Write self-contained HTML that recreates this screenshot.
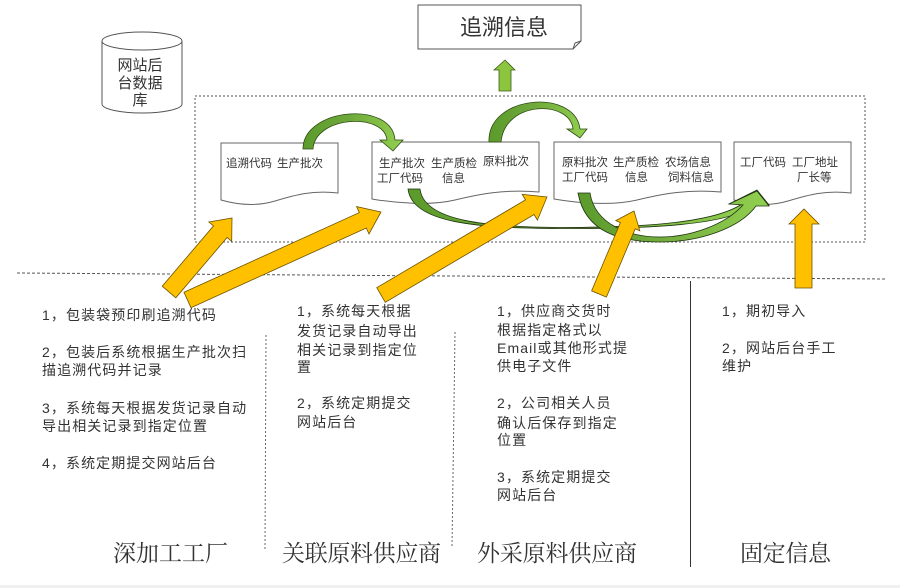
<!DOCTYPE html>
<html><head><meta charset="utf-8"><style>
html,body{margin:0;padding:0;background:#fff;}
svg{display:block;}
.t{font-family:"Liberation Sans","Noto Sans CJK SC",sans-serif;fill:#333;}
.b{font-size:11.5px;}
.p{font-size:14px;letter-spacing:1.1px;}
.l{font-family:"Liberation Serif","Noto Serif CJK SC",serif;font-size:23px;fill:#333;}
</style></head><body>
<svg width="900" height="588" viewBox="0 0 900 588" xmlns="http://www.w3.org/2000/svg">
<defs>
<linearGradient id="g1" x1="0" y1="0" x2="1" y2="0"><stop offset="0" stop-color="#5c9a2c"/><stop offset="0.45" stop-color="#6ea83a"/><stop offset="1" stop-color="#92d050"/></linearGradient>
<linearGradient id="g2" x1="0" y1="0" x2="1" y2="0"><stop offset="0" stop-color="#5c9a2c"/><stop offset="0.35" stop-color="#6ea83a"/><stop offset="1" stop-color="#92d050"/></linearGradient>
</defs>
<rect x="0" y="0" width="900" height="588" fill="#fff"/>
<rect x="0" y="585" width="900" height="3" fill="#f0f0f0"/>

<!-- database cylinder -->
<path d="M102,41 L102,104 A40,9 0 0 0 182,104 L182,41" fill="#fff" stroke="#555" stroke-width="1"/>
<ellipse cx="142" cy="41" rx="40" ry="9" fill="#fff" stroke="#555" stroke-width="1"/>
<text class="t" x="140" y="70" font-size="15" text-anchor="middle">网站后</text>
<text class="t" x="140" y="88" font-size="15" text-anchor="middle">台数据</text>
<text class="t" x="140" y="105" font-size="15" text-anchor="middle">库</text>

<!-- 追溯信息 box -->
<path d="M418,5 L581,5 L581,41 L573,49 L418,49 Z" fill="#fff" stroke="#555" stroke-width="1"/>
<path d="M573,49 L575,43 L581,41" fill="none" stroke="#555" stroke-width="1"/>
<text class="t" x="504" y="35" font-size="22" text-anchor="middle">追溯信息</text>

<!-- green up arrow -->
<polygon points="499,91 499,70 494,70 505,60 515,70 511,70 511,91" fill="#8cc63f" stroke="#3b5d1b" stroke-width="0.8"/>

<!-- dotted container -->
<rect x="195" y="96" width="670" height="146" fill="none" stroke="#555" stroke-width="1" stroke-dasharray="2,2"/>

<!-- document boxes -->
<path d="M221,143 L338,143 L338,193 C312,190 295,195 275,201 C255,207 235,204 221,200 Z" fill="#fff" stroke="#666" stroke-width="1"/>
<path d="M372,142 L539,142 L539,192 C505,189 480,194 455,200 C430,206 395,203 372,199 Z" fill="#fff" stroke="#666" stroke-width="1"/>
<path d="M554,142 L721,142 L721,192 C687,189 662,194 637,200 C612,206 577,203 554,199 Z" fill="#fff" stroke="#666" stroke-width="1"/>
<path d="M734,142 L851,142 L851,193 C825,190 808,195 788,201 C768,207 748,204 734,200 Z" fill="#fff" stroke="#666" stroke-width="1"/>

<!-- box texts -->
<text class="t b" x="226" y="167">追溯代码</text>
<text class="t b" x="277" y="167">生产批次</text>

<text class="t b" x="379" y="167">生产批次</text>
<text class="t b" x="431" y="167">生产质检</text>
<text class="t b" x="483" y="165">原料批次</text>
<text class="t b" x="377" y="182">工厂代码</text>
<text class="t b" x="442" y="182">信息</text>

<text class="t b" x="562" y="166">原料批次</text>
<text class="t b" x="613" y="166">生产质检</text>
<text class="t b" x="665" y="166">农场信息</text>
<text class="t b" x="562" y="181">工厂代码</text>
<text class="t b" x="625" y="181">信息</text>
<text class="t b" x="668" y="181">饲料信息</text>

<text class="t b" x="740" y="166">工厂代码</text>
<text class="t b" x="792" y="166">工厂地址</text>
<text class="t b" x="797" y="181">厂长等</text>

<!-- top curved arrows -->
<path d="M303,149 C303,108 392,100 395,140 L403,140 L393,151 L380,140 L387,140 C384,112 315,116 313,149 Z" fill="url(#g1)" stroke="#2e4a14" stroke-width="0.8"/>
<path d="M489,142 C487,95 575,88 580,129 L587,129 L580,138 L567,129 L573,129 C570,100 505,100 501,142 Z" fill="url(#g1)" stroke="#2e4a14" stroke-width="0.8"/>

<!-- lower curved arrows -->
<path d="M408,189 C412,224 480,228 560,228.5 C650,229 730,225 754,205 L769,205 L757,190 L729,204 L742,204 C715,222 650,227.5 560,227.5 C490,227 424,222 420,189 Z" fill="url(#g2)" stroke="#1f3310" stroke-width="0.8"/>
<path d="M578,193 C585,232 620,242 660,242 C700,242 740,228 756,206 L769,206 L757,191 L729,204 L743,205 C725,225 690,237 660,237 C630,237 595,225 590,193 Z" fill="url(#g2)" stroke="#1f3310" stroke-width="0.8"/>

<!-- horizontal dashed divider -->
<line x1="17" y1="273" x2="885" y2="279" stroke="#555" stroke-width="1" stroke-dasharray="3,2"/>

<!-- yellow arrows -->
<g fill="#FFC000" stroke="#6b5200" stroke-width="0.8" stroke-linejoin="miter">
<polygon points="162.2,286.2 213.5,225.9 208.9,222.0 232,218 231.7,241.4 227.1,237.5 175.8,297.8"/>
<polygon points="184.0,292.3 359.3,212.6 356.6,206.6 381,212 369.0,234.0 366.3,228.0 191.0,307.7"/>
<polygon points="376.7,287.7 525.5,199.9 522.2,194.3 547,197 537.4,220.1 534.1,214.5 385.3,302.3"/>
<polygon points="591.6,290.9 620.4,222.6 615.8,220.6 634,211 639.8,230.8 635.2,228.8 606.4,297.1"/>
<polygon points="795,288 795,224 789,224 804,209 819,224 812,224 812,288"/>
</g>

<!-- vertical separators -->
<line x1="266" y1="335" x2="265" y2="550" stroke="#666" stroke-width="1" stroke-dasharray="2,2"/>
<line x1="455" y1="332" x2="452" y2="548" stroke="#666" stroke-width="1" stroke-dasharray="2,2"/>
<line x1="690.5" y1="281" x2="690.5" y2="567" stroke="#333" stroke-width="1"/>

<!-- column 1 -->
<text class="t p" x="42" y="320">1，包装袋预印刷追溯代码</text>
<text class="t p" x="42" y="357">2，包装后系统根据生产批次扫</text>
<text class="t p" x="42" y="375">描追溯代码并记录</text>
<text class="t p" x="42" y="413">3，系统每天根据发货记录自动</text>
<text class="t p" x="42" y="431">导出相关记录到指定位置</text>
<text class="t p" x="42" y="468">4，系统定期提交网站后台</text>

<!-- column 2 -->
<text class="t p" x="297" y="316">1，系统每天根据</text>
<text class="t p" x="297" y="336">发货记录自动导出</text>
<text class="t p" x="297" y="355">相关记录到指定位</text>
<text class="t p" x="297" y="372">置</text>
<text class="t p" x="297" y="408">2，系统定期提交</text>
<text class="t p" x="297" y="427">网站后台</text>

<!-- column 3 -->
<text class="t p" x="497" y="316">1，供应商交货时</text>
<text class="t p" x="497" y="335">根据指定格式以</text>
<text class="t p" x="497" y="353" letter-spacing="0.5">Email或其他形式提</text>
<text class="t p" x="497" y="371">供电子文件</text>
<text class="t p" x="497" y="408">2，公司相关人员</text>
<text class="t p" x="497" y="428">确认后保存到指定</text>
<text class="t p" x="497" y="445">位置</text>
<text class="t p" x="497" y="482">3，系统定期提交</text>
<text class="t p" x="497" y="500">网站后台</text>

<!-- column 4 -->
<text class="t p" x="722" y="316">1，期初导入</text>
<text class="t p" x="722" y="353">2，网站后台手工</text>
<text class="t p" x="722" y="371">维护</text>

<!-- bottom labels -->
<text class="l" x="113" y="561" textLength="115">深加工工厂</text>
<text class="l" x="282" y="561" textLength="159">关联原料供应商</text>
<text class="l" x="477" y="561" textLength="160">外采原料供应商</text>
<text class="l" x="740" y="561" textLength="91">固定信息</text>
</svg>
</body></html>
